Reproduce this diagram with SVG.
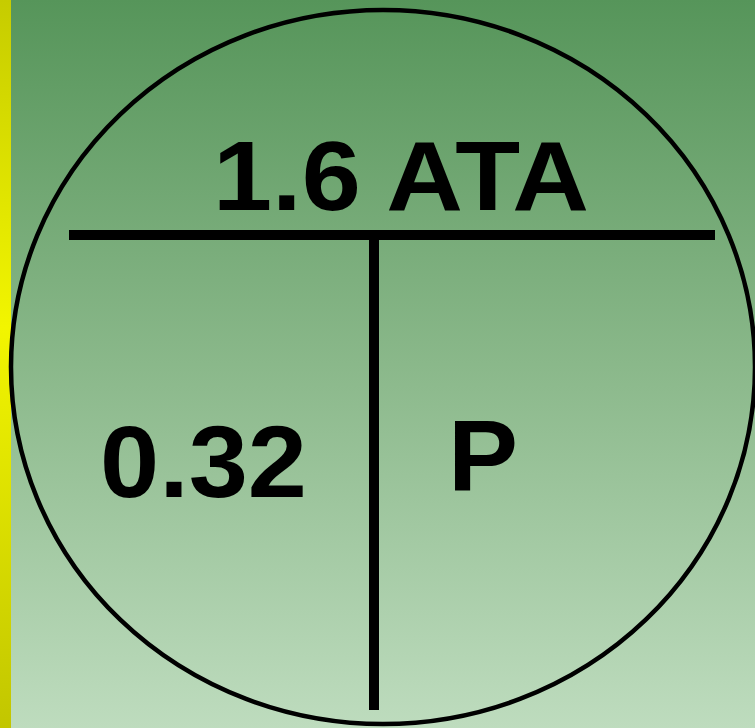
<svg xmlns="http://www.w3.org/2000/svg" width="755" height="728" viewBox="0 0 755 728">
<defs>
<linearGradient id="bg" x1="0" y1="0" x2="0" y2="1">
<stop offset="0" stop-color="#56955a"/>
<stop offset="0.5" stop-color="#8ab88a"/>
<stop offset="1" stop-color="#bedcbe"/>
</linearGradient>
<linearGradient id="bar" x1="0" y1="0" x2="0" y2="1">
<stop offset="0" stop-color="#c6cc00"/>
<stop offset="0.45" stop-color="#f2f500"/>
<stop offset="1" stop-color="#c2c600"/>
</linearGradient>
<style>
.t{font-family:"Liberation Sans",Arial,sans-serif;font-weight:bold;fill:#000}
.ln{stroke:#000;fill:none}
</style>
</defs>
<rect x="0" y="0" width="755" height="728" fill="url(#bg)"/>
<rect x="0" y="0" width="11" height="728" fill="url(#bar)"/>
<g id="circle">
<ellipse cx="383" cy="367" rx="372" ry="357" class="ln" stroke-width="4.5"/>
</g>
<g id="connectors">
<line x1="69" y1="235" x2="715" y2="235" class="ln" stroke-width="10"/>
<line x1="374" y1="240" x2="374" y2="710" class="ln" stroke-width="10"/>
</g>
<g id="top"><text class="t" x="213" y="210" font-size="99" textLength="376" lengthAdjust="spacingAndGlyphs">1.6 ATA</text></g>
<g id="left"><text class="t" x="100" y="497" font-size="102" textLength="207" lengthAdjust="spacingAndGlyphs">0.32</text></g>
<g id="right"><text class="t" x="448" y="490" font-size="100" textLength="70" lengthAdjust="spacingAndGlyphs">P</text></g>
</svg>
